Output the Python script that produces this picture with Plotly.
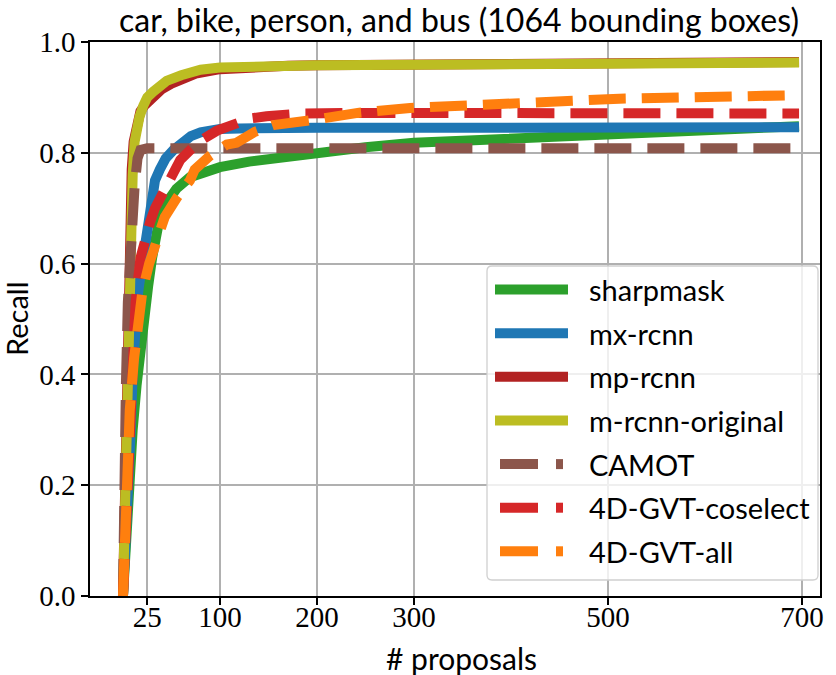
import plotly.graph_objects as go

# ---------------- data ----------------
title_text = "car, bike, person, and bus (1064 bounding boxes)"
x_tick_vals = [25, 100, 200, 300, 500, 700]
y_tick_vals = [0.0, 0.2, 0.4, 0.6, 0.8, 1.0]
y_tick_text = ["0.0", "0.2", "0.4", "0.6", "0.8", "1.0"]

sharpmask_x = [0, 3, 6, 10, 14, 18, 22, 26, 30, 33, 38, 45, 55, 69, 85, 100, 130, 162, 213, 250, 300, 350, 400, 450, 500, 550, 600, 650, 697]
sharpmask_y = [0, 0.1, 0.2, 0.3, 0.38, 0.45, 0.51, 0.56, 0.61, 0.648, 0.684, 0.71, 0.735, 0.756, 0.767, 0.774, 0.784, 0.792, 0.801, 0.81, 0.818, 0.822, 0.826, 0.829, 0.832, 0.836, 0.84, 0.844, 0.848]

mxrcnn_x = [0, 2, 4, 6, 8, 10, 12, 15, 19, 22, 25, 29, 33, 38, 44, 52, 61, 70, 80, 90, 100, 120, 150, 200, 300, 400, 500, 600, 697]
mxrcnn_y = [0, 0.06, 0.14, 0.22, 0.3, 0.4, 0.49, 0.54, 0.59, 0.63, 0.66, 0.71, 0.75, 0.77, 0.79, 0.805, 0.82, 0.83, 0.837, 0.841, 0.843, 0.844, 0.845, 0.845, 0.845, 0.845, 0.845, 0.845, 0.846]

mprcnn_x = [0, 1, 2, 3, 4, 5, 6, 7, 8, 9, 11, 13, 15, 18, 22, 27, 33, 40, 50, 60, 75, 100, 130, 170, 200, 300, 400, 500, 600, 697]
mprcnn_y = [0, 0.1, 0.24, 0.35, 0.45, 0.55, 0.62, 0.68, 0.73, 0.77, 0.82, 0.845, 0.86, 0.875, 0.885, 0.895, 0.905, 0.915, 0.925, 0.933, 0.943, 0.951, 0.955, 0.957, 0.958, 0.96, 0.961, 0.962, 0.963, 0.964]

mrcnn_orig_x = [0, 1, 2, 3, 4, 5, 6, 7, 8, 9, 10, 12, 14, 17, 21, 25, 31, 38, 45, 60, 80, 100, 130, 160, 200, 300, 400, 500, 600, 697]
mrcnn_orig_y = [0, 0.08, 0.2, 0.29, 0.38, 0.49, 0.55, 0.6, 0.66, 0.72, 0.76, 0.82, 0.845, 0.865, 0.885, 0.9, 0.91, 0.92, 0.93, 0.94, 0.95, 0.954, 0.956, 0.957, 0.958, 0.959, 0.96, 0.961, 0.962, 0.963]

camot_x = [0, 1, 3, 5, 7, 9, 12, 15, 18, 25, 100, 300, 697]
camot_y = [0, 0.25, 0.38, 0.53, 0.61, 0.67, 0.74, 0.79, 0.805, 0.808, 0.808, 0.808, 0.808]

coselect_x = [0, 3, 6, 9, 13, 18, 22, 28, 33, 48, 59, 70, 81, 97, 115, 131, 148, 186, 250, 400, 697]
coselect_y = [0, 0.15, 0.28, 0.4, 0.53, 0.61, 0.64, 0.675, 0.70, 0.75, 0.787, 0.806, 0.823, 0.84, 0.853, 0.862, 0.866, 0.871, 0.872, 0.872, 0.871]

all_x = [0, 2, 4, 7, 11.5, 16, 20, 27, 37, 43, 56, 69, 74, 90, 107, 117, 136, 155, 195, 242, 296, 352, 408, 463, 518, 575, 630, 697]
all_y = [0, 0.14, 0.23, 0.336, 0.43, 0.5, 0.55, 0.6, 0.66, 0.684, 0.72, 0.75, 0.77, 0.795, 0.815, 0.818, 0.838, 0.85, 0.859, 0.872, 0.881, 0.886, 0.892, 0.893, 0.898, 0.9, 0.902, 0.904]

series_names = ["sharpmask", "mx-rcnn", "mp-rcnn", "m-rcnn-original", "CAMOT", "4D-GVT-coselect", "4D-GVT-all"]
series_x = [sharpmask_x, mxrcnn_x, mprcnn_x, mrcnn_orig_x, camot_x, coselect_x, all_x]
series_y = [sharpmask_y, mxrcnn_y, mprcnn_y, mrcnn_orig_y, camot_y, coselect_y, all_y]
series_colors = ["#2ca02c", "#1f77b4", "#b22222", "#bcbd22", "#8c564b", "#d62728", "#ff7f0e"]
series_dashed = [False, False, False, False, True, True, True]

# ---------------- layout geometry ----------------
W, H = 836, 675
L, R, T, B = 90, 820, 42, 596
SANS = "Lato"
SERIF = "Liberation Serif"


def px_x(p):
    return (p - L) / (R - L)


def px_y(p):
    return (B - p) / (B - T)


fig = go.Figure()
for name, xs, ys, col, dashed in zip(series_names, series_x, series_y, series_colors, series_dashed):
    fig.add_trace(go.Scatter(
        x=xs, y=ys, mode="lines", name=name,
        line=dict(color=col, width=10, dash="37px,16px" if dashed else "solid"),
        showlegend=False, hoverinfo="skip",
    ))

shapes = []
annotations = []

# legend box (rounded)
bx0, by0, bx1, by1, rad = 487, 266, 818, 580, 5
rx, ry = rad / (R - L), rad / (B - T)
X0, X1, Y0, Y1 = px_x(bx0), px_x(bx1), px_y(by1), px_y(by0)
path = (f"M {X0+rx},{Y1} L {X1-rx},{Y1} Q {X1},{Y1} {X1},{Y1-ry} "
        f"L {X1},{Y0+ry} Q {X1},{Y0} {X1-rx},{Y0} L {X0+rx},{Y0} "
        f"Q {X0},{Y0} {X0},{Y0+ry} L {X0},{Y1-ry} Q {X0},{Y1} {X0+rx},{Y1} Z")
shapes.append(dict(type="path", xref="paper", yref="paper", path=path,
                   line=dict(color="#d0d0d0", width=1.3),
                   fillcolor="rgba(255,255,255,0.8)", layer="above"))

entry_y = [289.5, 333.2, 376.8, 420.5, 464.1, 507.7, 551.3]
for name, col, dashed, ey in zip(series_names, series_colors, series_dashed, entry_y):
    yy = px_y(ey)
    if dashed:
        shapes.append(dict(type="line", xref="paper", yref="paper",
                           x0=px_x(500), x1=px_x(538), y0=yy, y1=yy,
                           line=dict(color=col, width=10), layer="above"))
        shapes.append(dict(type="line", xref="paper", yref="paper",
                           x0=px_x(556), x1=px_x(563), y0=yy, y1=yy,
                           line=dict(color=col, width=10), layer="above"))
    else:
        shapes.append(dict(type="line", xref="paper", yref="paper",
                           x0=px_x(495), x1=px_x(568), y0=yy, y1=yy,
                           line=dict(color=col, width=10), layer="above"))
    annotations.append(dict(text=name, xref="paper", yref="paper",
                            x=px_x(587), y=yy, xanchor="left", yanchor="middle",
                            showarrow=False, font=dict(family=SANS, size=29, color="black")))

# axis titles
annotations.append(dict(text="# proposals", xref="paper", yref="paper",
                        x=px_x(461), y=px_y(658), xanchor="center", yanchor="middle",
                        showarrow=False, font=dict(family=SANS, size=30, color="black")))
annotations.append(dict(text="Recall", xref="paper", yref="paper",
                        x=px_x(16), y=0.5, xanchor="center", yanchor="middle",
                        textangle=-90, showarrow=False,
                        font=dict(family=SANS, size=29, color="black")))

fig.update_layout(
    width=W, height=H,
    margin=dict(l=L, r=W - R, t=T, b=H - B),
    paper_bgcolor="white", plot_bgcolor="white",
    title=dict(text=title_text, x=459 / W, xanchor="center",
               y=1 - 21 / H, yanchor="middle", yref="container",
               font=dict(family=SANS, size=32, color="black")),
    shapes=shapes, annotations=annotations,
    showlegend=False,
)
fig.update_xaxes(
    range=[-34, 718.6], tickvals=x_tick_vals, ticktext=[str(v) for v in x_tick_vals],
    showgrid=True, gridcolor="#b0b0b0", gridwidth=1.6, zeroline=False,
    showline=True, linecolor="black", linewidth=1.6, mirror=True,
    ticks="outside", ticklen=7, tickwidth=1.6, tickcolor="black",
    ticklabelstandoff=-13,
    tickfont=dict(family=SERIF, size=29, color="black"),
)
fig.update_yaxes(
    range=[0, 1], tickvals=y_tick_vals, ticktext=y_tick_text,
    showgrid=True, gridcolor="#b0b0b0", gridwidth=1.6, zeroline=False,
    showline=True, linecolor="black", linewidth=1.6, mirror=True,
    ticks="outside", ticklen=7, tickwidth=1.6, tickcolor="black",
    tickfont=dict(family=SERIF, size=29, color="black"),
)

fig.write_html("out.html")
